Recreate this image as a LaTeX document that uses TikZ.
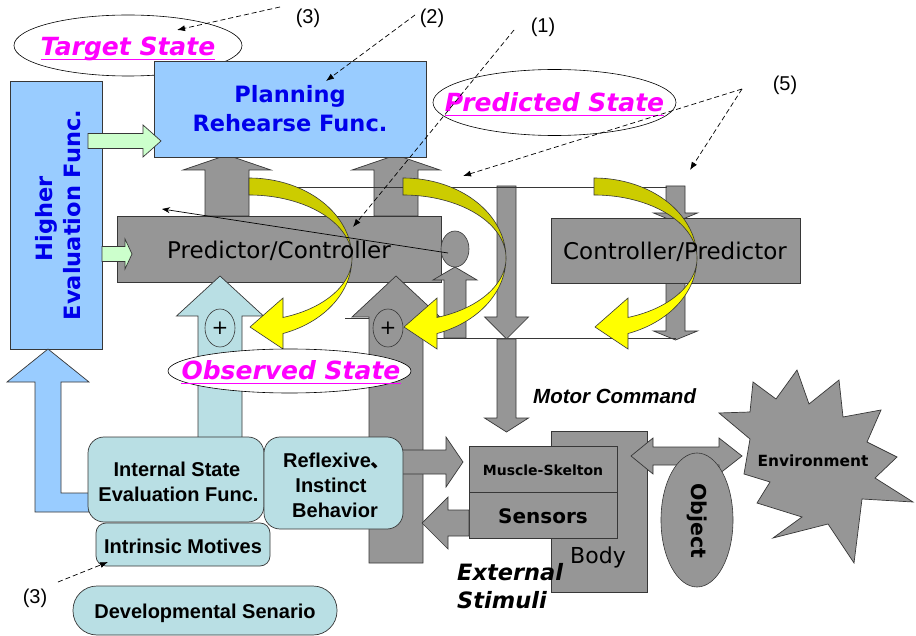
\documentclass[tikz,border=0pt]{standalone}
\usepackage{fontspec}
\setmainfont{DejaVu Sans}
\newfontfamily\verd{DejaVu Sans}[BoldFont={DejaVu Sans Bold},ItalicFont={DejaVu Sans Oblique},BoldItalicFont={DejaVu Sans Bold Oblique}]
\newfontfamily\arial{Liberation Sans}
\newfontfamily\cjk{Noto Sans CJK JP}
\usetikzlibrary{arrows.meta,shapes.geometric}

\definecolor{boxgray}{RGB}{150,150,150}
\definecolor{edgegray}{RGB}{55,55,55}
\definecolor{skyblue}{RGB}{153,204,255}
\definecolor{paleteal}{RGB}{185,223,228}
\definecolor{palegreen}{RGB}{204,255,204}
\definecolor{deepblue}{RGB}{0,0,235}
\definecolor{ribbonback}{RGB}{204,204,0}
\definecolor{ribbonfront}{RGB}{255,255,0}
\definecolor{magentatxt}{RGB}{255,0,255}

\newcommand\fsz[1]{\fontsize{#1}{#1}\selectfont}

% vertical block arrow: [style]{centre x}{tip y}{head base y}{tail y}{head half width}{shaft half width}
\newcommand\varrow[7][]{\draw[#1] (#2,#3) -- ({#2+#6},#4) -- ({#2+#7},#4) -- ({#2+#7},#5) -- ({#2-#7},#5) -- ({#2-#7},#4) -- ({#2-#6},#4) -- cycle;}
% horizontal block arrow: [style]{centre y}{tip x}{head base x}{tail x}{head half width}{shaft half width}
\newcommand\harrow[7][]{\draw[#1] (#3,#2) -- (#4,{#2-#6}) -- (#4,{#2-#7}) -- (#5,{#2-#7}) -- (#5,{#2+#7}) -- (#4,{#2+#7}) -- (#4,{#2+#6}) -- cycle;}
% twisted ribbon arrow curling right and back to the left; #1 = x of its tail
\newcommand\ribbonarrow[1]{%
  \begin{scope}[shift={(#1,258)}]
    \filldraw[fill=ribbonback,draw=edgegray,line width=0.6pt]
      plot[domain=90:0,samples=40] ({103*cos(\x)},{-80*sin(\x)})
      -- plot[domain=0:90,samples=40] ({103*cos(\x)},{-63*sin(\x)}) -- cycle;
    \filldraw[fill=ribbonfront,draw=edgegray,line width=0.6pt]
      plot[domain=0:-70.7,samples=40] ({103*cos(\x)},{-80*sin(\x)})
      -- (34,91) -- (1,69) -- (34,40)
      -- plot[domain=-70.7:0,samples=40] ({103*cos(\x)},{-63*sin(\x)}) -- cycle;
  \end{scope}}

\begin{document}
\begin{tikzpicture}[x=1pt,y=-1pt,
  outl/.style={draw=edgegray,line width=0.7pt},
  grayfill/.style={outl,fill=boxgray},
  bluefill/.style={outl,fill=skyblue},
  tealfill/.style={outl,fill=paleteal},
  greenfill/.style={outl,fill=palegreen},
  boxnode/.style={inner sep=0pt,outer sep=0pt},
  ellnode/.style={ellipse,draw=black,line width=0.6pt,inner sep=0pt,outer sep=0pt},
  txt/.style={inner sep=0pt,anchor=base},
  magtxt/.style={txt,text=magentatxt,font=\verd\bfseries\itshape\fsz{25}},
  bluetxt/.style={txt,text=deepblue,font=\verd\bfseries\fsz{22.5}},
  arialbold/.style={txt,font=\arial\bfseries\fsz{20}},
  numtxt/.style={txt,font=\arial\fsz{20}},
  thinline/.style={draw=edgegray,line width=0.6pt},
  pointer/.style={dash pattern=on 5pt off 3pt,line width=0.7pt,-{Latex[length=8pt,width=6pt]}}]

\useasboundingbox (0,0) rectangle (916,636);
\fill[white] (0,0) rectangle (916,636);

% state ellipses behind everything else
\node[ellnode,fill=white,minimum width=228pt,minimum height=61pt] (tsell) at (128,45.5) {};
\node[ellnode,fill=white,minimum width=243pt,minimum height=66pt] (psell) at (554.5,102.5) {};

% thin bus lines
\draw[thinline] (345,318) -- (400,318);

% right-hand command arrows
\varrow[grayfill]{675.5}{222}{213}{186}{22}{9.5}
\varrow[grayfill]{675.5}{340}{331}{262}{22}{9.5}
% central command arrow
\varrow[grayfill]{506.5}{339}{317}{186}{22}{9.5}

\node[grayfill,boxnode,minimum width=249pt,minimum height=65pt] (cp) at (675.5,250.5) {};

% predictor outputs to planning
\varrow[grayfill]{227}{155}{170}{216}{44}{22}
\varrow[grayfill]{396}{155}{170}{216}{44}{22}

\node[bluefill,boxnode,minimum width=272pt,minimum height=96pt] (plan) at (290,109) {};

\draw[thinline] (249,187.5) -- (667,187.5);

\node[grayfill,boxnode,minimum width=324pt,minimum height=66pt] (pc) at (279,249) {};

% comparator and its input
\varrow[grayfill]{455}{267}{280}{338}{22}{11}
\node[ellnode,fill=boxgray,draw=edgegray,minimum width=28pt,minimum height=36pt] (cmp) at (455,249) {};

% observation streams
\varrow[grayfill]{396}{276}{317}{563}{44}{27}
\varrow[tealfill]{220}{276}{316}{440}{43.5}{22}

\draw[thinline] (423,338) -- (676,338);

\node[ellnode,draw=edgegray,minimum width=30pt,minimum height=38pt] (sum1) at (220,328) {};
\node[ellnode,draw=edgegray,minimum width=30pt,minimum height=38pt] (sum2) at (388,328) {};
\node[font=\verd\fsz{20},inner sep=0pt] at (sum1.center) {+};
\node[font=\verd\fsz{20},inner sep=0pt] at (sum2.center) {+};

% prediction loops
\ribbonarrow{249}
\ribbonarrow{403}
\ribbonarrow{594}

\node[txt,font=\verd\fsz{23}] (pctxt) at (279,259) {Predictor/Controller};
\node[txt,font=\verd\fsz{23}] (cptxt) at (675,260) {Controller/Predictor};

\coordinate (cmpout) at (162,209);
\draw[line width=0.7pt,-{Stealth[length=8pt,width=6pt]}] ([xshift=-7pt,yshift=-4pt]cmp.center) -- (cmpout);

\node[ellnode,fill=white,minimum width=243pt,minimum height=44pt] (osell) at (289.5,371) {};

% higher evaluation
\node[bluefill,boxnode,minimum width=92pt,minimum height=268pt] (high) at (56,215) {};
\harrow[greenfill]{141}{161}{143}{88}{16}{7.5}
\harrow[greenfill]{254}{132}{125}{102}{15}{7.5}
\draw[bluefill] (48,349) -- (89,382) -- (61,382) -- (61,493) -- (89,493) -- (89,512)
  -- (35,512) -- (35,382) -- (7,382) -- cycle;

% internal and reflexive boxes
\harrow[grayfill]{462}{463}{446}{395}{25}{12}
\node[tealfill,boxnode,rounded corners=16pt,minimum width=176pt,minimum height=85pt] (ise) at (176,479.5) {};
\node[tealfill,boxnode,rounded corners=16pt,minimum width=139pt,minimum height=92pt] (refl) at (333.5,483) {};
\node[tealfill,boxnode,rounded corners=10pt,minimum width=174pt,minimum height=43pt] (intr) at (183,544.5) {};
\node[tealfill,boxnode,rounded corners=24pt,minimum width=264pt,minimum height=49pt] (dev) at (205,610.5) {};

% body side
\varrow[grayfill]{506.5}{432}{418}{339}{22}{9.5}
\node[grayfill,boxnode,minimum width=96pt,minimum height=161pt] (body) at (599,511.5) {};
\node[grayfill,boxnode,minimum width=148pt,minimum height=46pt] (musc) at (543,469) {};
\node[grayfill,boxnode,minimum width=148pt,minimum height=46pt] (sens) at (543,515) {};
\harrow[grayfill]{523}{422}{448}{469}{26}{13}

% environment
\draw[grayfill] (719,413) -- (750,412) -- (753,382) -- (776,399) -- (797,370) -- (809,404)
  -- (839,380) -- (843,417) -- (881,410) -- (867,442) -- (897,457) -- (875,478)
  -- (913,502) -- (862,499) -- (854,563) -- (828,524) -- (773,538) -- (802,517)
  -- (757,503) -- (770,482) -- (744,474) -- (750,439) -- cycle;
\coordinate (envc) at (813,461);
% body <-> environment
\draw[grayfill] (631,456) -- (653,438) -- (653,447) -- (719,447) -- (719,438) -- (742,456)
  -- (719,474) -- (719,465) -- (653,465) -- (653,474) -- cycle;
\node[ellnode,fill=boxgray,draw=edgegray,minimum width=72pt,minimum height=134pt] (obj) at (697,520) {};

% texts
\node[bluetxt] (plan1) at (290,103) {Planning};
\node[bluetxt] (plan2) at (290,132) {Rehearse Func.};
\node[bluetxt,rotate=90] (high1) at (52,219) {Higher};
\node[bluetxt,rotate=90] (high2) at (80,215) {Evaluation Func.};

\node[arialbold] (ise1) at (177,476) {Internal State};
\node[arialbold] (ise2) at (178.5,501) {Evaluation Func.};
\node[arialbold] (refl1) at (337,467) {Reflexive{\cjk 、}};
\node[arialbold] (refl2) at (331,492) {Instinct};
\node[arialbold] (refl3) at (335,517) {Behavior};
\node[arialbold] (intrtxt) at (183,553) {Intrinsic Motives};
\node[arialbold] (devtxt) at (205,618) {Developmental Senario};

\node[txt,font=\verd\bfseries\fsz{14}] (musctxt) at (543,475) {Muscle-Skelton};
\node[txt,font=\verd\bfseries\fsz{20}] (senstxt) at (543,523) {Sensors};
\node[txt,font=\verd\fsz{22}] (bodytxt) at (598,563) {Body};
\node[txt,font=\verd\bfseries\fsz{15.4}] (envtxt) at (813,466) {Environment};
\node[txt,font=\verd\bfseries\fsz{20.5},rotate=-90] (objtxt) at (691,520.5) {Object};

\node[txt,anchor=base west,font=\arial\bfseries\itshape\fsz{20.5}] (motor) at (533,403) {Motor Command};
\node[txt,anchor=base west,font=\verd\bfseries\itshape\fsz{22.5}] (ext1) at (457,580) {External};
\node[txt,anchor=base west,font=\verd\bfseries\itshape\fsz{22.5}] (ext2) at (457,608) {Stimuli};

\node[magtxt] (ts) at (128,56) {Target State};
\node[magtxt] (ps) at (554.5,112) {Predicted State};
\node[magtxt] (os) at (291,380) {Observed State};
\foreach \n in {ts,ps,os}
  \draw[magentatxt,line width=1.6pt] ([yshift=-3.5pt]\n.base west) -- ([yshift=-3.5pt]\n.base east);

\node[numtxt] (n3a) at (308,24) {(3)};
\node[numtxt] (n2) at (432,24) {(2)};
\node[numtxt] (n1) at (543,33) {(1)};
\node[numtxt] (n5) at (785,91) {(5)};
\node[numtxt] (n3b) at (35,603) {(3)};

% reference pointers
\coordinate (p3a) at (280,7);   \coordinate (t3a) at (177,30);
\coordinate (p2) at (415,15);   \coordinate (t2) at (326,81);
\coordinate (p1) at (514,30);   \coordinate (t1) at (353,227);
\coordinate (p5) at (742,89);   \coordinate (t5a) at (463,176); \coordinate (t5b) at (690,170);
\coordinate (p3b) at (58,582);  \coordinate (t3b) at (108,562);
\draw[pointer] (p3a) -- (t3a);
\draw[pointer] (p2) -- (t2);
\draw[pointer] (p1) -- (t1);
\draw[pointer] (p5) -- (t5a);
\draw[pointer] (p5) -- (t5b);
\draw[pointer] (p3b) -- (t3b);
\end{tikzpicture}
\end{document}
